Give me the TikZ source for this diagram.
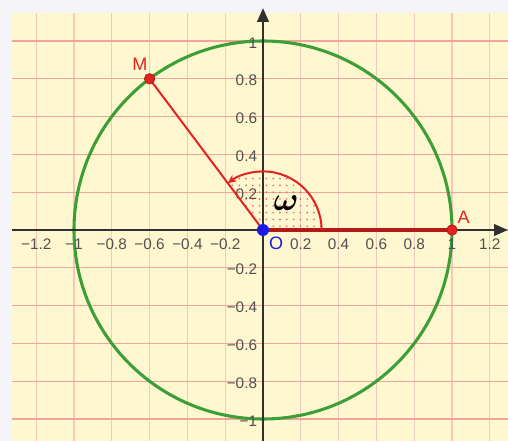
\documentclass[tikz,border=0pt]{standalone}
\usepackage{amsmath}
\usepackage{fontspec}
\setmainfont{Liberation Sans}
\usetikzlibrary{arrows.meta}
\definecolor{bgout}{HTML}{F5F5F8}
\definecolor{bgyellow}{HTML}{FFF7CF}
\definecolor{gridh}{HTML}{F2A49C}
\definecolor{gridv}{HTML}{F4C8BC}
\definecolor{circgreen}{HTML}{3C9E37}
\definecolor{segred}{HTML}{E32222}
\definecolor{darkred}{HTML}{B21A1A}
\definecolor{axisgray}{HTML}{303030}
\definecolor{ticklab}{HTML}{505050}
\definecolor{ptblue}{HTML}{1A1AE6}
\tikzset{
  gridlineh/.style={gridh, line width=0.8pt},
  gridlinev/.style={gridv, line width=0.8pt},
  axisline/.style={axisgray, line width=2.2pt, -{Triangle[length=10.5pt,width=8.5pt]}},
  ticktext/.style={text=ticklab, inner sep=0pt, font=\fontsize{11.5}{13}\selectfont},
  ptlabel/.style={inner sep=0pt, font=\fontsize{13.5}{15}\selectfont},
  ptdot/.style={circle, inner sep=0pt, minimum size=7.8pt, fill=segred, draw=darkred, line width=0.6pt},
  omegalabel/.style={inner sep=0pt, font=\fontsize{27}{29}\selectfont},
}
\begin{document}
\begin{tikzpicture}[x=141.75pt,y=141.75pt]
\useasboundingbox (-1.3915,-1.1164) rectangle (1.2963,1.2169);
\fill[bgout] (-1.3915,-1.1164) rectangle (1.2963,1.2169);
\fill[bgyellow] (-1.328,-1.1164) rectangle (1.2963,1.148);
% grid
\foreach \i in {-6,...,6} \draw[gridlinev] (\i*0.2,-1.1164) -- (\i*0.2,1.148);
\foreach \i in {-5,...,5} \draw[gridlineh] (-1.328,\i*0.2) -- (1.2963,\i*0.2);
% key points
\coordinate (O) at (0,0);
\coordinate (A) at (1,0);
\coordinate (M) at (-0.6,0.8);
\coordinate (xs) at (-1.328,0);
\coordinate (xe) at (1.2963,0);
\coordinate (ys) at (0,-1.1164);
\coordinate (ye) at (0,1.175);
% angle sector dots
\begin{scope}
  \clip (O) -- (0.31,0) arc[start angle=0,end angle=126.87,radius=0.31] -- cycle;
  \foreach \i in {-9,...,9} \foreach \j in {0,...,9}
    \fill[segred!70] (\i*0.036+0.018,\j*0.036+0.02) circle (0.7pt);
\end{scope}
% circle
\draw[circgreen, line width=2.3pt] (O) circle (1);
% axes
\draw[axisline] (xs) -- (xe);
\draw[axisline] (ys) -- (ye);
% tick labels
\foreach \v/\t [count=\k] in {-1.2/−1.2,-1/−1,-0.8/−0.8,-0.6/−0.6,-0.4/−0.4,-0.2/−0.2,0.2/0.2,0.4/0.4,0.6/0.6,0.8/0.8,1/1,1.2/1.2}
  \node[ticktext] (xl\k) at (\v,-0.074) {\t};
\foreach \v/\t [count=\k] in {1/1,0.8/0.8,0.6/0.6,0.4/0.4,0.2/0.2,-0.2/−0.2,-0.4/−0.4,-0.6/−0.6,-0.8/−0.8,-1/−1}
  \node[ticktext, anchor=east] (yl\k) at (-0.03,\v-0.01) {\t};
% segments
\draw[darkred, line width=2.3pt] (O) -- (A);
\draw[segred, line width=1.5pt] (O) -- (M);
% angle arc
\draw[segred, line width=1.5pt, -{Stealth[length=6.5pt,width=6pt]}] (0.31,0) arc[start angle=0,end angle=126.87,radius=0.31];
\node[omegalabel] (om) at (0.122,0.14) {$\boldsymbol{\omega}$};
% points
\node[ptdot] (Mdot) at (M) {};
\node[ptdot] (Adot) at (A) {};
\node[circle, inner sep=0pt, minimum size=9pt, fill=ptblue] (Odot) at (O) {};
% point labels
\node[ptlabel, text=segred] (Mlab) at (-0.651,0.878) {M};
\node[ptlabel, text=segred] (Alab) at (1.062,0.067) {A};
\node[ptlabel, text=ptblue] (Olab) at (0.069,-0.072) {O};
\end{tikzpicture}
\end{document}
